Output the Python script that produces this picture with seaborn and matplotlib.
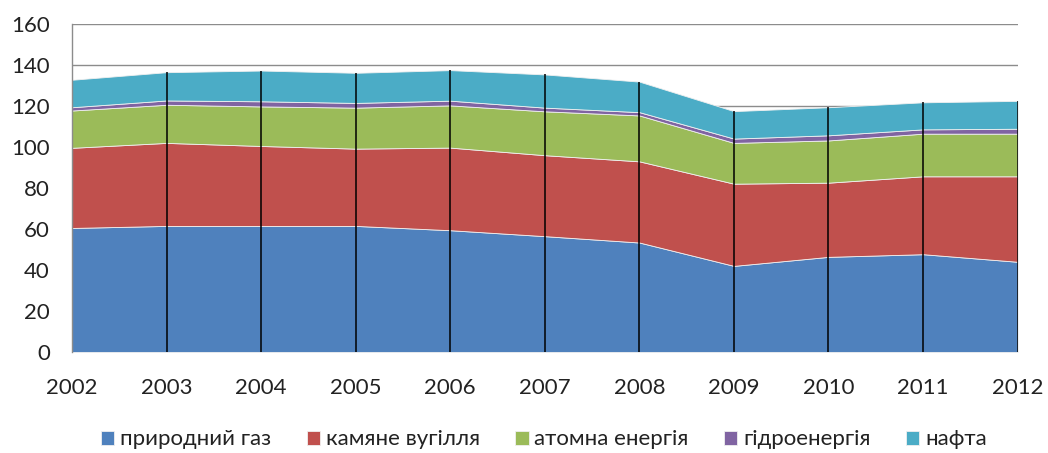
import numpy as np
import pandas as pd
import matplotlib
matplotlib.use("Agg")
import matplotlib.pyplot as plt
import seaborn as sns

years = [2002, 2003, 2004, 2005, 2006, 2007, 2008, 2009, 2010, 2011, 2012]
gas = [60.5, 61.5, 61.5, 61.5, 59.4, 56.5, 53.4, 42.0, 46.4, 47.7, 44.0]
coal = [39.1, 40.5, 39.0, 37.7, 40.3, 39.5, 39.6, 40.1, 36.2, 38.0, 41.7]
nuclear = [18.2, 18.6, 19.3, 20.0, 20.6, 21.4, 22.4, 19.9, 20.6, 20.8, 20.8]
hydro = [1.6, 2.1, 2.5, 2.3, 2.3, 1.8, 1.6, 2.1, 2.5, 2.1, 2.4]
oil = [13.4, 13.8, 15.0, 14.7, 14.9, 16.2, 14.9, 13.4, 13.7, 13.2, 13.6]

labels = ["природний газ", "камяне вугілля", "атомна енергія", "гідроенергія", "нафта"]
colors = ["#4F81BD", "#C0504D", "#9BBB59", "#8064A2", "#4BACC6"]

df = pd.DataFrame({"year": years, labels[0]: gas, labels[1]: coal,
                   labels[2]: nuclear, labels[3]: hydro, labels[4]: oil})

sns.set_theme(style="white")
plt.rcParams["font.family"] = ["Lato", "DejaVu Sans"]

fig = plt.figure(figsize=(10.48, 4.53), dpi=100)
ax = fig.add_axes([0.0687, 0.223, 0.9023, 0.724])

ax.set_axisbelow(True)
ax.yaxis.grid(True, color="#8c8c8c", linewidth=1.0, zorder=0)

pal = sns.color_palette(colors)
ax.stackplot(df["year"], [df[l] for l in labels], labels=labels, colors=pal,
             edgecolor="#f0f0f0", linewidth=0.6, zorder=2)

totals = df[labels].sum(axis=1)
ax.vlines(df["year"][1:], 0, totals[1:], color="black", linewidth=1.1, zorder=3)

ax.set_xlim(2002, 2012)
ax.set_ylim(0, 160)
ax.set_yticks(range(0, 161, 20))
ax.set_xticks(years)
ax.set_xticklabels([str(y) for y in years])
ax.tick_params(axis="x", length=0, pad=19, labelsize=16, colors="#222222")
ax.tick_params(axis="y", length=0, pad=16, labelsize=16, colors="#222222")

for s in ["top", "right", "bottom"]:
    ax.spines[s].set_visible(False)
ax.spines["left"].set_color("#8c8c8c")
ax.spines["left"].set_linewidth(1.0)

ax.legend(loc="center", bbox_to_anchor=(0.519, 0.03), bbox_transform=fig.transFigure,
          ncol=5, frameon=False, fontsize=16, handlelength=0.6, handleheight=0.6,
          handletextpad=0.25, columnspacing=1.6, labelcolor="#222222")

fig.savefig("out.png", dpi=100)
